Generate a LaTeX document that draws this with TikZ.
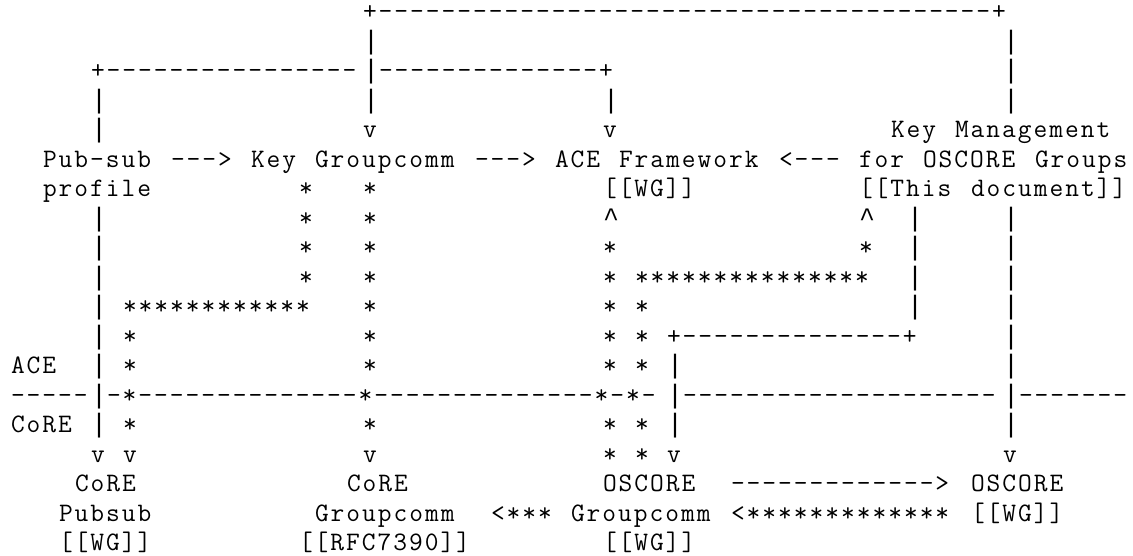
\documentclass[tikz,border=0pt]{standalone}
\usepackage{fontspec}
\setmonofont{Latin Modern Mono}[LetterSpace=7.5]
\newfontfamily\libm{Liberation Mono}
\ExplSyntaxOn
\cs_new:Npn \Rp #1#2 { \prg_replicate:nn {#1} {#2} }
\ExplSyntaxOff
\newcommand\artfont{\ttfamily\fontsize{26.66pt}{29.5pt}\selectfont}
\newcommand\R[3]{\node[asc] (c#1r#2) at ({11+16*#1},{535.3-29.5*#2}) {#3};}
\newcommand\up{{\libm\textasciicircum}}
\newcommand\vb{{\libm|}}
\begin{document}
\begin{tikzpicture}[x=1pt,y=1pt,
  asc/.style={anchor=base west,inner sep=0pt,outer sep=0pt,font=\artfont}]
\useasboundingbox (0,0) rectangle (1133,555);
% row 0
\R{22}{0}{+\Rp{39}{-}+}
% row 1
\R{22}{1}{\vb}\R{62}{1}{\vb}
% row 2
\R{5}{2}{+\Rp{16}{-}}\R{22}{2}{\vb}\R{23}{2}{\Rp{14}{-}+}\R{62}{2}{\vb}
% row 3
\R{5}{3}{\vb}\R{22}{3}{\vb}\R{37}{3}{\vb}\R{62}{3}{\vb}
% row 4
\R{5}{4}{\vb}\R{22}{4}{v}\R{37}{4}{v}\R{55}{4}{Key}\R{59}{4}{Management}
% row 5
\R{2}{5}{Pub-sub}\R{10}{5}{--->}\R{15}{5}{Key}\R{19}{5}{Groupcomm}\R{29}{5}{--->}
\R{34}{5}{ACE}\R{38}{5}{Framework}\R{48}{5}{<---}\R{53}{5}{for}\R{57}{5}{OSCORE}\R{64}{5}{Groups}
% row 6
\R{2}{6}{profile}\R{18}{6}{*}\R{22}{6}{*}\R{37}{6}{[[WG]]}\R{53}{6}{[[This}\R{60}{6}{document]]}
% row 7
\R{5}{7}{\vb}\R{18}{7}{*}\R{22}{7}{*}\R{37}{7}{\up}\R{53}{7}{\up}\R{56}{7}{\vb}\R{62}{7}{\vb}
% row 8
\R{5}{8}{\vb}\R{18}{8}{*}\R{22}{8}{*}\R{37}{8}{*}\R{53}{8}{*}\R{56}{8}{\vb}\R{62}{8}{\vb}
% row 9
\R{5}{9}{\vb}\R{18}{9}{*}\R{22}{9}{*}\R{37}{9}{*}\R{39}{9}{\Rp{15}{*}}\R{56}{9}{\vb}\R{62}{9}{\vb}
% row 10
\R{5}{10}{\vb}\R{7}{10}{\Rp{12}{*}}\R{22}{10}{*}\R{37}{10}{*}\R{39}{10}{*}\R{56}{10}{\vb}\R{62}{10}{\vb}
% row 11
\R{5}{11}{\vb}\R{7}{11}{*}\R{22}{11}{*}\R{37}{11}{*}\R{39}{11}{*}\R{41}{11}{+\Rp{14}{-}+}\R{62}{11}{\vb}
% row 12
\R{0}{12}{ACE}\R{5}{12}{\vb}\R{7}{12}{*}\R{22}{12}{*}\R{37}{12}{*}\R{39}{12}{*}\R{41}{12}{\vb}\R{62}{12}{\vb}
% row 13
\R{0}{13}{\Rp{5}{-}}\R{5}{13}{\vb}\R{6}{13}{-*\Rp{14}{-}*\Rp{14}{-}*-*-}\R{41}{13}{\vb}\R{42}{13}{\Rp{20}{-}}\R{62}{13}{\vb}\R{63}{13}{\Rp{7}{-}}
% row 14
\R{0}{14}{CoRE}\R{5}{14}{\vb}\R{7}{14}{*}\R{22}{14}{*}\R{37}{14}{*}\R{39}{14}{*}\R{41}{14}{\vb}\R{62}{14}{\vb}
% row 15
\R{5}{15}{v}\R{7}{15}{v}\R{22}{15}{v}\R{37}{15}{*}\R{39}{15}{*}\R{41}{15}{v}\R{62}{15}{v}
% row 16
\R{4}{16}{CoRE}\R{21}{16}{CoRE}\R{37}{16}{OSCORE}\R{45}{16}{\Rp{13}{-}>}\R{60}{16}{OSCORE}
% row 17
\R{3}{17}{Pubsub}\R{19}{17}{Groupcomm}\R{30}{17}{<***}\R{35}{17}{Groupcomm}\R{45}{17}{<\Rp{13}{*}}\R{60}{17}{[[WG]]}
% row 18
\R{3}{18}{[[WG]]}\R{18}{18}{[[RFC7390]]}\R{37}{18}{[[WG]]}
\end{tikzpicture}
\end{document}
